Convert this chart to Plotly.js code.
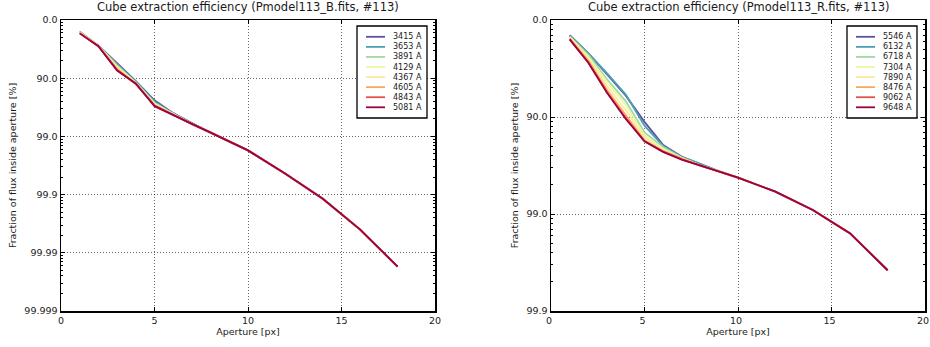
<!DOCTYPE html>
<html>
<head>
<meta charset="utf-8">
<script src="https://cdn.plot.ly/plotly-3.0.1.min.js"></script>
<style>html,body{margin:0;padding:0;background:#fff;overflow:hidden;}#chart{width:930px;height:347px;}</style>
</head>
<body>
<div id="chart"></div>
<script>
// ---- data ----
const apertures = [1, 2, 3, 4, 5, 6, 7, 8, 9, 10, 12, 14, 16, 18];

const blueTitle = 'Cube extraction efficiency (Pmodel113_B.fits, #113)';
const redTitle = 'Cube extraction efficiency (Pmodel113_R.fits, #113)';

const blueLabels = ['3415 A', '3653 A', '3891 A', '4129 A', '4367 A', '4605 A', '4843 A', '5081 A'];
const redLabels = ['5546 A', '6132 A', '6718 A', '7304 A', '7890 A', '8476 A', '9062 A', '9648 A'];

// fraction of flux inside aperture [%]
const b3415 = [36.9, 63.7, 81.8, 91.09, 95.83, 97.49, 98.30, 98.83, 99.19, 99.425, 99.771, 99.915, 99.975, 99.9942];
const b3653 = [36.9, 63.7, 82.6, 91.29, 96.02, 97.55, 98.34, 98.83, 99.19, 99.425, 99.771, 99.915, 99.975, 99.9942];
const b3891 = [38.3, 63.7, 83.4, 91.49, 96.20, 97.55, 98.34, 98.83, 99.19, 99.425, 99.771, 99.915, 99.975, 99.9942];
const b4129 = [38.3, 64.1, 84.2, 91.68, 96.37, 97.60, 98.38, 98.83, 99.19, 99.425, 99.771, 99.915, 99.975, 99.9942];
const b4367 = [39.7, 64.1, 84.9, 91.87, 96.45, 97.60, 98.38, 98.83, 99.19, 99.425, 99.771, 99.915, 99.975, 99.9942];
const b4605 = [39.7, 64.5, 85.5, 92.06, 96.53, 97.66, 98.38, 98.83, 99.19, 99.425, 99.771, 99.915, 99.975, 99.9942];
const b4843 = [41.1, 64.5, 86.2, 92.06, 96.61, 97.66, 98.38, 98.83, 99.19, 99.425, 99.771, 99.915, 99.975, 99.9942];
const b5081 = [41.1, 64.5, 86.5, 91.87, 96.69, 97.66, 98.38, 98.83, 99.19, 99.425, 99.771, 99.915, 99.975, 99.9942];

const r5546 = [30.0, 54.8, 72.5, 83.4, 91.09, 94.87, 96.11, 96.76, 97.25, 97.63, 98.30, 98.90, 99.37, 99.737];
const r6132 = [31.6, 54.8, 71.8, 83.0, 91.87, 94.99, 96.11, 96.76, 97.25, 97.63, 98.30, 98.90, 99.37, 99.737];
const r6718 = [32.4, 56.3, 75.5, 85.5, 93.08, 95.10, 96.20, 96.84, 97.25, 97.63, 98.30, 98.90, 99.37, 99.737];
const r7304 = [33.2, 58.3, 77.1, 86.8, 93.54, 95.32, 96.20, 96.84, 97.25, 97.63, 98.30, 98.90, 99.37, 99.737];
const r7890 = [33.9, 60.2, 79.1, 88.25, 93.83, 95.43, 96.28, 96.84, 97.25, 97.63, 98.30, 98.90, 99.37, 99.737];
const r8476 = [35.4, 62.0, 81.0, 89.53, 94.25, 95.53, 96.28, 96.87, 97.25, 97.63, 98.30, 98.90, 99.37, 99.737];
const r9062 = [36.9, 63.7, 82.2, 90.23, 94.38, 95.63, 96.37, 96.87, 97.25, 97.63, 98.30, 98.90, 99.37, 99.737];
const r9648 = [36.9, 63.7, 82.2, 90.45, 94.38, 95.63, 96.37, 96.87, 97.25, 97.63, 98.30, 98.90, 99.37, 99.737];

const blueSeries = [b3415, b3653, b3891, b4129, b4367, b4605, b4843, b5081];
const redSeries = [r5546, r6132, r6718, r7304, r7890, r8476, r9062, r9648];

const blueTickLabels = ['0.0', '90.0', '99.0', '99.9', '99.99', '99.999'];
const redTickLabels = ['0.0', '90.0', '99.0', '99.9'];

// Spectral_r, 8 samples
const colors = ['#5e4fa2', '#48a0b2', '#a1d9a4', '#edf8a3', '#fee99a', '#fca55d', '#e2514a', '#9e0142'];

// ---- logit-like transform: position = -log10(1 - f) ----
const pos = f => -Math.log10(1 - f / 100);

const W = 930, H = 347;
const px = x => x / W;
const py = y => 1 - y / H;

const traces = [];
blueSeries.forEach((s, i) => traces.push({
  x: apertures, y: s.map(pos), type: 'scatter', mode: 'lines', name: blueLabels[i],
  line: {color: colors[i], width: 1.8}, xaxis: 'x', yaxis: 'y', showlegend: false, hoverinfo: 'x+text', text: s.map(v => v + ' %')
}));
redSeries.forEach((s, i) => traces.push({
  x: apertures, y: s.map(pos), type: 'scatter', mode: 'lines', name: redLabels[i],
  line: {color: colors[i], width: 1.8}, xaxis: 'x2', yaxis: 'y2', showlegend: false, hoverinfo: 'x+text', text: s.map(v => v + ' %')
}));

function minorVals(nDec) {
  const out = [];
  for (let d = 0; d < nDec; d++) for (let k = 1; k <= 8; k++) out.push(d - Math.log10(1 - k / 10));
  return out;
}

const font = {family: 'DejaVu Sans, sans-serif', size: 9.5, color: '#1a1a1a'};
function xAxis(dom, anchor, shift) {
  return {
    domain: dom, anchor: anchor, range: [0, 20], tickvals: [0, 5, 10, 15, 20], ticktext: ['0', '5', '10', '15', '20'],
    ticks: 'inside', ticklen: 4, tickcolor: '#000', showline: true, linecolor: '#000', linewidth: 1.5, mirror: 'ticks',
    showgrid: true, gridcolor: 'rgba(0,0,0,0.75)', gridwidth: 0.8, griddash: '1px,2px', zeroline: false,
    ticklabeloverflow: 'allow', ticklabelshift: shift,
    tickfont: font, title: {text: 'Aperture [px]', font: font, standoff: 2}
  };
}
function yAxis(dom, anchor, labels) {
  const n = labels.length - 1;
  return {
    domain: dom, anchor: anchor, range: [n, 0], tickmode: 'array', tickvals: labels.map((_, i) => i), ticktext: labels,
    ticks: 'inside', ticklen: 4, tickcolor: '#000', showline: true, linecolor: '#000', linewidth: 1.5, mirror: 'ticks',
    showgrid: true, gridcolor: 'rgba(0,0,0,0.75)', gridwidth: 0.8, griddash: '1px,2px', zeroline: false,
    ticklabeloverflow: 'allow',
    minor: {tickvals: minorVals(n), ticks: 'inside', ticklen: 2, tickcolor: '#000', showgrid: false},
    tickfont: font, title: {text: 'Fraction of flux inside aperture [%]', font: font, standoff: 6}
  };
}

const yDom = [py(311), py(20)];
const shapes = [];
const annotations = [
  {text: blueTitle, xref: 'paper', yref: 'paper', x: px(248), y: py(7), xanchor: 'center', yanchor: 'middle', showarrow: false,
   font: {family: 'DejaVu Sans, sans-serif', size: 11.5, color: '#1a1a1a'}},
  {text: redTitle, xref: 'paper', yref: 'paper', x: px(738), y: py(7), xanchor: 'center', yanchor: 'middle', showarrow: false,
   font: {family: 'DejaVu Sans, sans-serif', size: 11.5, color: '#1a1a1a'}}
];

function legend(labels, boxL, boxR, lineL, lineR, textL) {
  shapes.push({type: 'rect', xref: 'paper', yref: 'paper', x0: px(boxL), x1: px(boxR), y0: py(118), y1: py(26),
    line: {color: '#000', width: 1.3}, fillcolor: '#fff', layer: 'above'});
  labels.forEach((lab, i) => {
    const yy = 36.8 + i * 10.07;
    shapes.push({type: 'line', xref: 'paper', yref: 'paper', x0: px(lineL), x1: px(lineR), y0: py(yy), y1: py(yy),
      line: {color: colors[i], width: 1.8}, layer: 'above'});
    annotations.push({text: lab, xref: 'paper', yref: 'paper', x: px(textL), y: py(yy), xanchor: 'left', yanchor: 'middle',
      showarrow: false, font: {family: 'DejaVu Sans, sans-serif', size: 8, color: '#1a1a1a'}});
  });
}
legend(blueLabels, 357, 427, 366, 385, 391);
legend(redLabels, 847, 917, 856, 875, 881);

const layout = {
  width: W, height: H, margin: {l: 0, r: 0, t: 0, b: 0}, paper_bgcolor: '#fff', plot_bgcolor: '#fff',
  showlegend: false,
  xaxis: xAxis([px(61), px(435)], 'y', 0),
  yaxis: yAxis(yDom, 'x', blueTickLabels),
  xaxis2: xAxis([px(551), px(925)], 'y2', -2),
  yaxis2: yAxis(yDom, 'x2', redTickLabels),
  shapes: shapes, annotations: annotations
};

Plotly.newPlot('chart', traces, layout, {staticPlot: true, displayModeBar: false});
</script>
</body>
</html>
